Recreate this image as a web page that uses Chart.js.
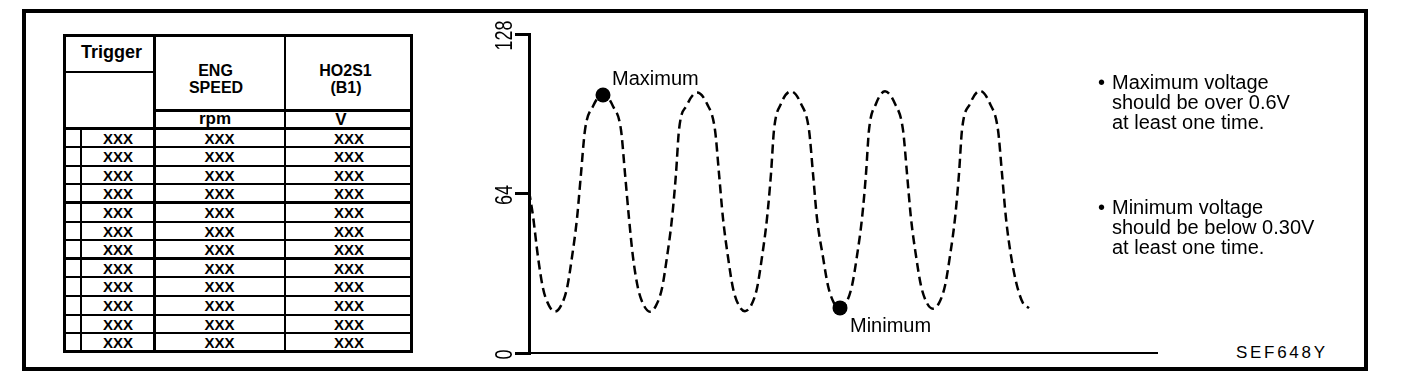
<!DOCTYPE html>
<html>
<head>
<meta charset="utf-8">
<script src="https://cdn.jsdelivr.net/npm/chart.js@4.4.1/dist/chart.umd.min.js"></script>
<style>
html,body{margin:0;padding:0;background:#fff;width:1408px;height:388px;overflow:hidden;}
body{position:relative;font-family:"Liberation Sans",Arial,Helvetica,sans-serif;color:#000;}
.frame{position:absolute;left:22px;top:9px;width:1346px;height:362px;border:4px solid #000;box-sizing:border-box;}
.ln{position:absolute;background:#000;}
.box{position:absolute;border:3px solid #000;box-sizing:border-box;}
.tt{position:absolute;font-weight:bold;text-align:center;white-space:nowrap;width:200px;}
.note{position:absolute;left:1112px;font-size:20px;line-height:20px;white-space:nowrap;}
.note .b{position:absolute;left:-14px;top:0;}
#code{position:absolute;left:1236px;top:344px;font-size:17px;line-height:17px;letter-spacing:2.7px;white-space:nowrap;}
#wrap{position:absolute;left:470px;top:10px;width:720px;height:360px;}
#wrap canvas{display:block;}
</style>
</head>
<body>
<div class="frame"></div>
<div id="tbl"></div>
<div id="wrap"><canvas id="c" width="720" height="360"></canvas></div>
<div class="note" style="top:72px"><span class="b">•</span>Maximum voltage<br>should be over 0.6V<br>at least one time.</div>
<div class="note" style="top:197px"><span class="b">•</span>Minimum voltage<br>should be below 0.30V<br>at least one time.</div>
<div id="code">SEF648Y</div>
<script>
// ---------- data ----------
const headTrigger = 'Trigger';
const headCols = [['ENG', 'SPEED'], ['HO2S1', '(B1)']];
const unitCols = ['rpm', 'V'];
const rowTrigger = ['XXX','XXX','XXX','XXX','XXX','XXX','XXX','XXX','XXX','XXX','XXX','XXX'];
const rowSpeed   = ['XXX','XXX','XXX','XXX','XXX','XXX','XXX','XXX','XXX','XXX','XXX','XXX'];
const rowVolt    = ['XXX','XXX','XXX','XXX','XXX','XXX','XXX','XXX','XXX','XXX','XXX','XXX'];

const yTickLabels = [0, 64, 128];

// HO2S1 signal trace (time, signal)
const traceTime = [
  0, 4, 9, 14, 20, 26,
  32, 38, 43, 48, 52, 56, 64, 74,
  84, 92, 96, 100, 104, 109, 115, 121,
  127, 133, 138, 143, 147, 150, 158, 168,
  178, 186, 190, 194, 199, 204, 210, 216,
  222, 228, 233, 238, 242, 245, 252, 262,
  272, 280, 284, 288, 294, 299, 305, 311,
  317, 323, 328, 333, 337, 340, 347, 356,
  366, 374, 378, 382, 387, 392, 398, 404,
  410, 416, 421, 426, 430, 433, 441, 451,
  461, 469, 473, 477, 482, 488, 494, 500
];
const traceSignal = [
  65, 55, 38.5, 26, 19, 16.6,
  19, 26, 38.5, 54, 72, 89.5, 99, 104,
  99, 89.5, 72, 54, 38.5, 26, 19, 16.6,
  19, 26, 38.5, 54, 72, 89.5, 99.5, 104.5,
  100, 89.5, 72, 54, 38.5, 26, 19, 16.8,
  19, 26, 38.5, 54, 72, 89.5, 100, 105,
  100, 89.5, 72, 54, 38.5, 27, 20, 18,
  20, 27, 39, 54, 72, 89.5, 100, 105,
  100, 89.5, 72, 54, 39, 27, 20, 17.8,
  20, 27, 39, 54, 72, 89.5, 100, 105.2,
  100, 89.5, 72, 54, 39, 27, 20, 18
];
const markerNames = ['Maximum', 'Minimum'];
const markerTime = [74, 311];
const markerSignal = [103.5, 18.1];

// ---------- table (HTML) ----------
const tbl = document.getElementById('tbl');
function line(x, y, w, h) {
  const d = document.createElement('div');
  d.className = 'ln';
  d.style.left = x + 'px'; d.style.top = y + 'px';
  d.style.width = w + 'px'; d.style.height = h + 'px';
  tbl.appendChild(d);
}
function text(str, cx, baseline, size) {
  const d = document.createElement('div');
  d.className = 'tt';
  d.textContent = str;
  d.style.fontSize = size + 'px';
  d.style.lineHeight = size + 'px';
  d.style.left = (cx - 100) + 'px';
  d.style.top = (baseline - 0.8465 * size) + 'px';
  tbl.appendChild(d);
}
const outer = document.createElement('div');
outer.className = 'box';
Object.assign(outer.style, {left:'63px', top:'34px', width:'350px', height:'319px'});
tbl.appendChild(outer);
line(153, 34, 3, 319);
line(284, 34, 2, 319);
line(80, 128, 2, 225);
line(63, 71, 92, 2);
line(153, 109, 260, 3);
line(63, 127, 350, 3);
for (let i = 1; i < rowTrigger.length; i++) {
  const c = 128.5 + 18.6 * i;
  const h = (i === 4 || i === 7) ? 3 : 2;
  line(63, Math.round(c - h / 2), 350, h);
}
text(headTrigger, 111.5, 58.3, 18);
text(headCols[0][0], 215.5, 77, 16);
text(headCols[0][1], 216, 94, 16);
text(headCols[1][0], 345.5, 77, 16);
text(headCols[1][1], 346, 94, 16);
text(unitCols[0], 215, 124.5, 17);
text(unitCols[1], 341, 125.5, 17);
for (let i = 0; i < rowTrigger.length; i++) {
  const b = 143.3 + 18.6 * i;
  text(rowTrigger[i], 118, b, 15);
  text(rowSpeed[i], 219.5, b, 15);
  text(rowVolt[i], 349, b, 15);
}

// ---------- chart ----------
const labelPlugin = {
  id: 'labels',
  afterDatasetsDraw(chart) {
    const c = chart.ctx;
    const meta = chart.getDatasetMeta(1);
    c.save();
    c.fillStyle = '#000';
    c.font = '20px "Liberation Sans", Arial, sans-serif';
    c.textAlign = 'left';
    c.textBaseline = 'alphabetic';
    meta.data.forEach((pt, i) => {
      if (i === 0) c.fillText(markerNames[i], pt.x + 9, pt.y - 10);
      else c.fillText(markerNames[i], pt.x + 10, pt.y + 24.5);
    });
    // rotated y tick labels
    const ys = chart.scales.y;
    const tl = ys.options.grid.tickLength;
    c.textAlign = 'center';
    c.font = '23px "Liberation Sans", Arial, sans-serif';
    ys.ticks.forEach(t => {
      const py = ys.getPixelForValue(t.value) + 1.5;
      c.save();
      c.translate(ys.right - tl - 3, py);
      c.rotate(-Math.PI / 2);
      c.scale(0.78, 1);
      c.fillText(String(t.value), 0, 0);
      c.restore();
    });
    c.restore();
  }
};

new Chart(document.getElementById('c'), {
  type: 'line',
  data: {
    datasets: [
      {
        data: traceTime.map((x, i) => ({x: x, y: traceSignal[i]})),
        borderColor: '#000',
        borderWidth: 2.5,
        borderDash: [9, 5],
        pointRadius: 0,
        cubicInterpolationMode: 'monotone',
        fill: false
      },
      {
        data: markerTime.map((x, i) => ({x: x, y: markerSignal[i]})),
        showLine: false,
        pointRadius: 7.5,
        pointBackgroundColor: '#000',
        pointBorderColor: '#000',
        pointBorderWidth: 0
      }
    ]
  },
  options: {
    responsive: false,
    animation: false,
    devicePixelRatio: 1,
    events: [],
    layout: {padding: {left: 0, top: 24, right: 33, bottom: 12}},
    plugins: {legend: {display: false}, tooltip: {enabled: false}},
    scales: {
      x: {
        type: 'linear', min: 0, max: 628,
        grid: {display: true, drawOnChartArea: false, drawTicks: false, color: 'rgba(0,0,0,0)'},
        border: {display: true, color: '#000', width: 2},
        ticks: {display: false},
        afterFit(s) { s.height = 5; }
      },
      y: {
        type: 'linear', min: 0, max: 128,
        afterBuildTicks(s) { s.ticks = yTickLabels.map(v => ({value: v})); },
        grid: {display: true, drawOnChartArea: false, drawTicks: true, tickLength: 14, lineWidth: 3, color: '#000'},
        border: {display: true, color: '#000', width: 3},
        ticks: {display: false},
        afterFit(s) { s.width = 59; }
      }
    }
  },
  plugins: [labelPlugin]
});
</script>
</body>
</html>
